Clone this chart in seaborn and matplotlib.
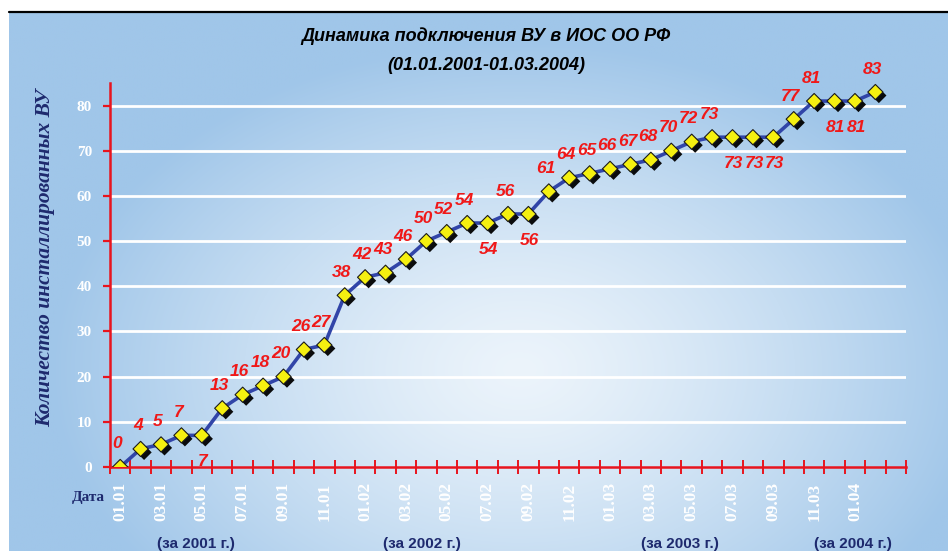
import numpy as np
import pandas as pd
import matplotlib
matplotlib.use("Agg")
import matplotlib.pyplot as plt
import matplotlib.patheffects as pe
from matplotlib.lines import Line2D
from matplotlib.transforms import blended_transform_factory
import seaborn as sns

# Monthly number of connected units, Jan 2001 .. Feb 2004
values = [0, 4, 5, 7, 7, 13, 16, 18, 20, 26, 27, 38,
          42, 43, 46, 50, 52, 54, 54, 56, 56, 61, 64, 65,
          66, 67, 68, 70, 72, 73, 73, 73, 73, 77, 81, 81,
          81, 83]
month_labels = ["01.01", "03.01", "05.01", "07.01", "09.01", "11.01",
                "01.02", "03.02", "05.02", "07.02", "09.02", "11.02",
                "01.03", "03.03", "05.03", "07.03", "09.03", "11.03",
                "01.04"]
year_labels = ["(за 2001 г.)", "(за 2002 г.)", "(за 2003 г.)", "(за 2004 г.)"]
y_ticks = [0, 10, 20, 30, 40, 50, 60, 70, 80]

# value labels drawn under the point instead of above it
below = {4, 18, 20, 30, 31, 32, 35, 36}
year_label_x = [3.7, 14.8, 27.4, 35.9]

sns.set_theme(style="white")
plt.rcParams["font.family"] = ["Liberation Sans", "DejaVu Sans"]

W, H = 948, 551
fig = plt.figure(figsize=(W / 100, H / 100), dpi=100)
fig.patch.set_facecolor("white")

# light-blue panel with a soft radial highlight
bg = fig.add_axes([9 / W, 0, 1 - 9 / W, (H - 12) / H])
bg.set_axis_off()
gx, gy = np.meshgrid(np.linspace(9, W, 400), np.linspace(12, H, 240))
r = np.sqrt(((gx - 520) / 470) ** 2 + ((gy - 370) / 330) ** 2)
t = np.clip(r, 0, 1) ** 1.3
edge = np.array([160, 198, 233]) / 255
center = np.array([236, 244, 251]) / 255
img = center[None, None, :] * (1 - t[..., None]) + edge[None, None, :] * t[..., None]
bg.imshow(img, aspect="auto", extent=[0, 1, 0, 1], origin="upper", interpolation="bilinear")
bg.set_xlim(0, 1)
bg.set_ylim(0, 1)
fig.add_artist(Line2D([9 / W, 1], [1 - 12 / H, 1 - 12 / H], color="black", lw=1.6))

ax = fig.add_axes([110 / W, 1 - 467 / H, (906 - 110) / W, (467 - 83) / H])
ax.patch.set_alpha(0)

df = pd.DataFrame({"idx": np.arange(len(values)), "value": values})

for yv in y_ticks[1:]:
    ax.axhline(yv, color="white", lw=2, zorder=1)

sns.lineplot(data=df, x="idx", y="value", ax=ax, color="#3145A8", lw=2.6, zorder=3)
sns.scatterplot(data=df, x="idx", y="value", ax=ax, marker="D", s=60,
                color="#F5F010", edgecolor="#1a1a1a", linewidth=0.8, zorder=4,
                path_effects=[pe.SimplePatchShadow(offset=(2.5, -2.5), shadow_rgbFace="black", alpha=0.95),
                              pe.Normal()])

for i, v in enumerate(values):
    dx, dy = ((1, -26) if i in below else (-3, 23))
    ax.annotate(str(v), (i, v), xytext=(dx, dy), textcoords="offset pixels",
                ha="center", va="center", color="#F01818", fontsize=12.5,
                fontweight="bold", fontstyle="italic", zorder=5)

ax.set_xlim(-0.5, len(values) + 0.5)
ax.set_ylim(0, 85)

red = "#E8141E"
for s in ["top", "right"]:
    ax.spines[s].set_visible(False)
for s in ["left", "bottom"]:
    ax.spines[s].set_color(red)
    ax.spines[s].set_linewidth(1.8)
    ax.spines[s].set_zorder(2)

ax.set_yticks(y_ticks)
ax.set_yticklabels([str(v) for v in y_ticks], color="white", fontsize=11,
                   fontweight="bold", family=["Liberation Serif", "DejaVu Serif"])
ax.tick_params(axis="y", direction="out", length=5, width=1.6, color=red, pad=8, left=True)

ax.set_xticks(np.arange(-0.5, len(values) + 1, 1.0))
ax.set_xticklabels([])
ax.tick_params(axis="x", which="major", direction="inout", length=10, width=1.4,
               color=red, bottom=True)
ax.set_xticks(np.arange(0, 2 * len(month_labels), 2), minor=True)
ax.set_xticklabels(month_labels, minor=True, rotation=90, color="white", fontsize=12.5,
                   fontweight="bold", family=["Liberation Serif", "DejaVu Serif"])
ax.tick_params(axis="x", which="minor", length=0, pad=11)
ax.set_xlabel("")
ax.set_ylabel("")

navy = "#1E2A6E"
fig.text(45 / W, 1 - 258 / H, "Количество инсталлированных ВУ", rotation=90,
         ha="center", va="center", color=navy, fontsize=15.5, fontweight="bold",
         fontstyle="italic", family=["Liberation Serif", "DejaVu Serif"])
fig.text(88 / W, 1 - 497 / H, "Дата", ha="center", va="center", color=navy,
         fontsize=11, fontweight="bold", family=["Liberation Serif", "DejaVu Serif"])

trans = blended_transform_factory(ax.transData, fig.transFigure)
for xv, lab in zip(year_label_x, year_labels):
    ax.text(xv, 1 - 544 / H, lab, transform=trans, ha="center", va="center",
            color=navy, fontsize=11, fontweight="bold",
            family=["Liberation Sans Narrow", "Liberation Sans", "DejaVu Sans"])

fig.text(486 / W, 1 - 36 / H, "Динамика подключения ВУ в ИОС ОО РФ",
         ha="center", va="center", fontsize=13, fontweight="bold", fontstyle="italic",
         color="black")
fig.text(486 / W, 1 - 65 / H, "(01.01.2001-01.03.2004)",
         ha="center", va="center", fontsize=13, fontweight="bold", fontstyle="italic",
         color="black")

fig.savefig("out.png", dpi=100, facecolor=fig.get_facecolor())
